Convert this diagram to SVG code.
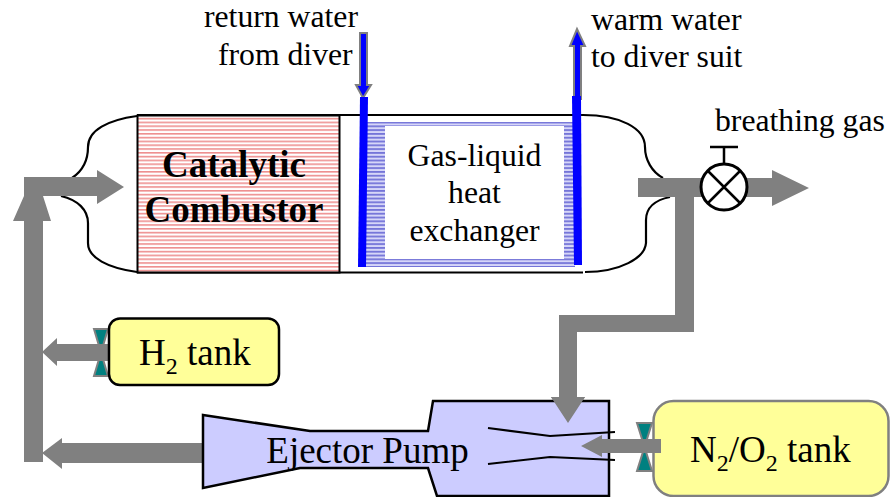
<svg xmlns="http://www.w3.org/2000/svg" width="890" height="497" viewBox="0 0 890 497">
<style>
text{font-family:"Liberation Serif","Times New Roman",serif;fill:#000;font-size:31.7px}
.big{font-size:37px}
.sub{font-size:24px}
.bold{font-size:37px;font-weight:bold}
.c{text-anchor:middle}
.g{fill:#808080}
.line{fill:none;stroke:#000;stroke-width:2.2}
.v{fill:#008080;stroke:#808080;stroke-width:2}
.tank{fill:#ffff99}
.pipe{fill:#0000ff;stroke:#808080;stroke-width:2}
.bar{fill:#0000ff}
</style>
<defs>
<pattern id="pink" width="4" height="3.8" patternUnits="userSpaceOnUse"><rect width="4" height="3.8" fill="#fff"/><rect width="4" height="1.6" fill="#ee8f8f"/></pattern>
<pattern id="blue" width="4" height="3.8" patternUnits="userSpaceOnUse"><rect width="4" height="3.8" fill="#d6d6f8"/><rect width="4" height="1.8" fill="#7474d8"/></pattern>
</defs>
<rect width="890" height="497" fill="#fff"/>
<g id="vessel">
<path class="line" d="M137 116C108 120 88 130 88 147C88 160 84 170 72 178"/>
<path class="line" d="M61 196C78 200 88 210 88 223V243C88 258 108 268 137 272"/>
<path class="line" d="M583 115C620 115 645 128 645 147C645 160 652 172 663 178"/>
<path class="line" d="M670 197C655 200 646 208 646 220V243C645 258 620 272 585 272"/>
<path class="line" d="M137 115H583M137 272.500H583"/>
</g>
<g id="combustor">
<rect x="137.500" y="115.500" width="202" height="157" fill="url(#pink)" stroke="#000" stroke-width="2"/>
<text class="c bold" x="234" y="177">Catalytic</text>
<text class="c bold" x="234" y="222">Combustor</text>
</g>
<g id="exchanger">
<rect x="362" y="122" width="213" height="145" fill="url(#blue)"/>
<rect x="385" y="126" width="179" height="133" fill="#fff"/>
<text class="c" x="474.500" y="166">Gas-liquid</text>
<text class="c" x="474.500" y="203">heat</text>
<text class="c" x="474.500" y="241">exchanger</text>
</g>
<g id="connectors">
<path class="g" d="M24 177H97V170L124 187L97 204V196H43L51 221H43V462H24V221H13L24 196Z"/>
<path class="g" d="M42 352L57 338V344H108V361H57V366Z"/>
<path class="g" d="M42 453L62 438V443H204V463H62V469Z"/>
<path class="g" d="M638 178H772V170L809 188L772 206V197H694V332H577V397H585L568 423L551 397H559V315H675V197H638Z"/>
</g>
<g id="ejector">
<path d="M203 415L310 431H428L433 401H609V496H437L428 468H300L203 488Z" fill="#ccccff" stroke="#000" stroke-width="2.500"/>
<text class="c big" x="367.500" y="463">Ejector Pump</text>
<path class="line" d="M488 428L550 436L615 432M488 464L550 457L615 460"/>
</g>
<g id="ejector-arrows">
<path class="g" d="M568 423L551 397H559V380H577V397H585Z"/>
<path class="g" d="M581 446L602 435V439H640V453H602V457Z"/>
</g>
<g id="h2-tank">
<path class="v" d="M94 329H108L94 376H108Z"/>
<rect class="g" x="98" y="344" width="10" height="17"/>
<rect class="tank" x="109" y="318.500" width="170" height="66.500" rx="11" stroke="#000" stroke-width="2.500"/>
<text class="big" x="139" y="365">H<tspan class="sub" dy="9">2</tspan><tspan dy="-9"> tank</tspan></text>
</g>
<g id="n2-tank">
<path class="v" d="M637 423H652L637 471H652Z"/>
<rect class="tank" x="653.500" y="401" width="235" height="95" rx="20" stroke="#808080" stroke-width="2.500"/>
<rect class="g" x="640" y="439" width="21" height="14"/>
<text class="big" x="690" y="462">N<tspan class="sub" dy="9">2</tspan><tspan dy="-9">/O</tspan><tspan class="sub" dy="9">2</tspan><tspan dy="-9"> tank</tspan></text>
</g>
<g id="return-water">
<path class="pipe" d="M360 33H367V85H371L363 98L356 85H360Z"/>
<path class="bar" d="M360 97H368L366 267H358Z"/>
<text x="204" y="27">return water</text>
<text x="218" y="65">from diver</text>
</g>
<g id="warm-water">
<path class="pipe" d="M574 99V46H570L577 29L585 46H581V99Z"/>
<path class="bar" d="M572 96H581L582 265H574Z"/>
<text x="591" y="30">warm water</text>
<text x="591" y="67">to diver suit</text>
</g>
<g id="breathing-valve">
<circle cx="724" cy="187" r="23" fill="#fff" stroke="#000" stroke-width="3"/>
<path d="M708 171L740 203M740 171L708 203M724 165V147M710 147H738" fill="none" stroke="#000" stroke-width="2.500"/>
<text x="715" y="131">breathing gas</text>
</g>
</svg>
